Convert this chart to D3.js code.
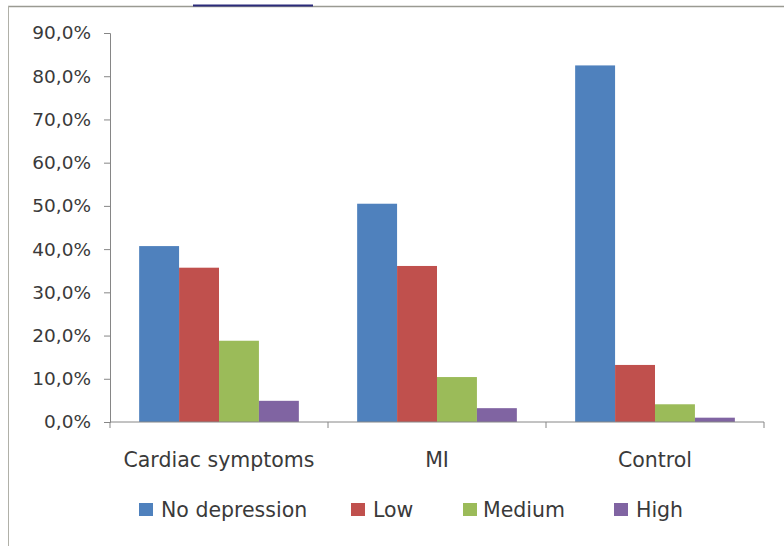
<!DOCTYPE html>
<html><head><meta charset="utf-8">
<script src="https://cdn.jsdelivr.net/npm/d3@7"></script>
<style>body{margin:0;background:#fff}svg{display:block}</style>
</head><body>
<svg id="c" width="784" height="546"></svg>
<script>
const categories = ["Cardiac symptoms", "MI", "Control"];
const seriesNames = ["No depression", "Low", "Medium", "High"];
const noDepression = [40.7, 50.5, 82.5];
const low = [35.7, 36.1, 13.2];
const medium = [18.8, 10.4, 4.1];
const high = [4.9, 3.2, 1.0];
const yTicks = [0, 10, 20, 30, 40, 50, 60, 70, 80, 90];
const colors = ["#4F81BD", "#C0504D", "#9BBB59", "#8064A2"];

(function () {
const seriesValues = [noDepression, low, medium, high];
const svg = d3.select("#c");
const font = "'DejaVu Sans', sans-serif";
const textColor = "#3a3a3a";

// frame
svg.append("line").attr("x1",8).attr("x2",784).attr("y1",6.5).attr("y2",6.5).attr("stroke","#9a9a92").attr("stroke-width",1.5);
svg.append("line").attr("x1",8.5).attr("x2",8.5).attr("y1",6).attr("y2",546).attr("stroke","#b0b0a8").attr("stroke-width",1);
svg.append("line").attr("x1",193).attr("x2",313).attr("y1",5.5).attr("y2",5.5).attr("stroke","#2b2b7a").attr("stroke-width",2);

const mLeft = 110, mRight = 764, mTop = 33, mBottom = 422;
const x0 = d3.scaleBand().domain(categories).range([mLeft, mRight]).paddingInner(0).paddingOuter(0);
const x1 = d3.scaleBand().domain(seriesNames).range([0, x0.bandwidth()]).paddingOuter(0.73).paddingInner(0);
const y = d3.scaleLinear().domain([0, 90]).range([mBottom, mTop]);

// bars
const g = svg.append("g");
categories.forEach((c, ci) => {
  seriesNames.forEach((s, si) => {
    const v = seriesValues[si][ci];
    g.append("rect")
      .attr("x", x0(c) + x1(s))
      .attr("y", y(v))
      .attr("width", x1.bandwidth())
      .attr("height", y(0) - y(v))
      .attr("fill", colors[si]);
  });
});

// y axis
const yAxis = d3.axisLeft(y).tickValues(yTicks).tickSize(6).tickPadding(13)
  .tickFormat(d => d3.format(".1f")(d).replace(".", ",") + "%");
const ya = svg.append("g").attr("transform", `translate(${mLeft},0)`).call(yAxis);
ya.selectAll("path, line").attr("stroke", "#868686");
ya.selectAll("text").attr("font-family", font).attr("font-size", 18.5).attr("fill", textColor);

// x axis
const xAxis = d3.axisBottom(x0).tickSize(0).tickPadding(30);
const xa = svg.append("g").attr("transform", `translate(0,${mBottom})`).call(xAxis);
xa.select("path").attr("stroke", "#868686").attr("d", `M${mLeft},0H${mRight}`);
xa.selectAll("text").attr("font-family", font).attr("font-size", 20.5).attr("fill", textColor);
xa.selectAll(".bnd").data(categories.map(c => x0(c) + x0.bandwidth()).concat([mLeft]))
  .enter().append("line").attr("class","bnd")
  .attr("x1", d => d).attr("x2", d => d).attr("y1", 0).attr("y2", 6).attr("stroke", "#868686");

// legend
const legendX = [139, 351, 463, 614];
const lg = svg.append("g");
seriesNames.forEach((s, i) => {
  lg.append("rect").attr("x", legendX[i]).attr("y", 503).attr("width", 14).attr("height", 13).attr("fill", colors[i]);
  lg.append("text").attr("x", legendX[i] + (i === 2 ? 20 : 22)).attr("y", 517).text(s)
    .attr("font-family", font).attr("font-size", 20.5).attr("fill", textColor);
});
})();
</script>
</body></html>
